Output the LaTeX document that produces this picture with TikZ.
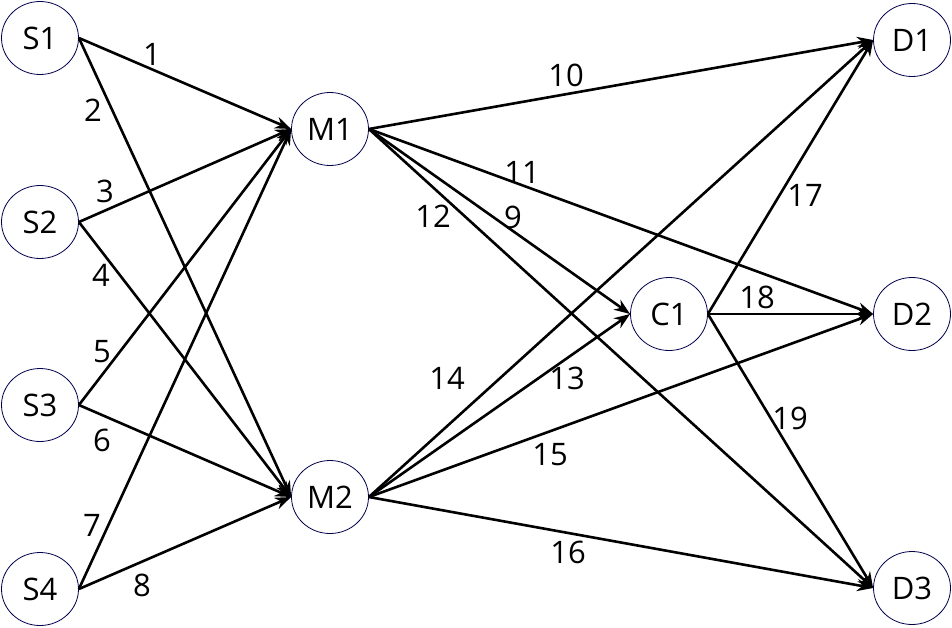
\documentclass[tikz,border=0pt]{standalone}
\usepackage{fontspec}
\setmainfont{Open Sans}
\usetikzlibrary{shapes.geometric,arrows.meta}
\begin{document}
\begin{tikzpicture}[x=1pt,y=-1pt,
  vtx/.style={ellipse,draw=black!70!blue,line width=0.8pt,minimum width=77pt,minimum height=73pt,inner sep=0pt,font=\fontsize{31}{36}\selectfont},
  lbl/.style={inner sep=0pt,font=\fontsize{31}{36}\selectfont},
  edge/.style={line width=2.6pt,-{Stealth[length=16pt,width=12pt]}}]
\useasboundingbox (0,0) rectangle (952,627);
\node[vtx] (S1) at (40,38) {S1};
\node[vtx] (S2) at (40,222) {S2};
\node[vtx] (S3) at (40,405) {S3};
\node[vtx] (S4) at (40,589) {S4};
\node[vtx] (M1) at (330,129) {M1};
\node[vtx] (M2) at (330,497) {M2};
\node[vtx] (C1) at (669,314) {C1};
\node[vtx] (D1) at (912,40) {D1};
\node[vtx] (D2) at (912,314) {D2};
\node[vtx] (D3) at (912,588) {D3};
\draw[edge] (S1.east) -- (M1.west);
\draw[edge] (S1.east) -- (M2.west);
\draw[edge] (S2.east) -- (M1.west);
\draw[edge] (S2.east) -- (M2.west);
\draw[edge] (S3.east) -- (M1.west);
\draw[edge] (S3.east) -- (M2.west);
\draw[edge] (S4.east) -- (M1.west);
\draw[edge] (S4.east) -- (M2.west);
\draw[edge] (M1.east) -- (C1.west);
\draw[edge] (M1.east) -- (D1.west);
\draw[edge] (M1.east) -- (D2.west);
\draw[edge] (M1.east) -- (D3.west);
\draw[edge] (M2.east) -- (C1.west);
\draw[edge] (M2.east) -- (D1.west);
\draw[edge] (M2.east) -- (D2.west);
\draw[edge] (M2.east) -- (D3.west);
\draw[edge] (C1.east) -- (D1.west);
\draw[edge] (C1.east) -- (D2.west);
\draw[edge] (C1.east) -- (D3.west);
\node[lbl] (l1) at (152,54) {1};
\node[lbl] (l2) at (93,110) {2};
\node[lbl] (l3) at (105,191) {3};
\node[lbl] (l4) at (101,275) {4};
\node[lbl] (l5) at (102,352) {5};
\node[lbl] (l6) at (102,440) {6};
\node[lbl] (l7) at (92,525) {7};
\node[lbl] (l8) at (142,585) {8};
\node[lbl] (l9) at (513,217) {9};
\node[lbl] (l10) at (566,75) {10};
\node[lbl] (l11) at (522,172) {11};
\node[lbl] (l12) at (433,216) {12};
\node[lbl] (l13) at (567,378) {13};
\node[lbl] (l14) at (447,378) {14};
\node[lbl] (l15) at (550,455) {15};
\node[lbl] (l16) at (568,552) {16};
\node[lbl] (l17) at (805,195) {17};
\node[lbl] (l18) at (757,297) {18};
\node[lbl] (l19) at (790,418) {19};
\end{tikzpicture}
\end{document}
